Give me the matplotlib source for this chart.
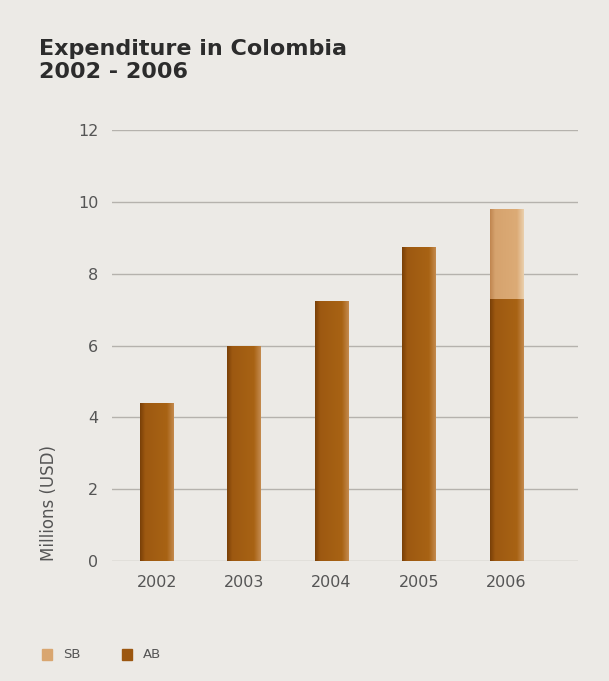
import matplotlib.pyplot as plt
import numpy as np
from matplotlib.patches import Rectangle
from matplotlib.colors import LinearSegmentedColormap

# donnees
years = ['2002', '2003', '2004', '2005', '2006']
ab = [4.4, 6.0, 7.25, 8.75, 7.3]
sb = [0, 0, 0, 0, 2.5]

col_ab = '#9c5710'
col_sb = '#d9a670'
bg = '#eceae6'

# degrades horizontaux pour l'effet 3D des barres
cm_ab = LinearSegmentedColormap.from_list(
    'ab', [(0, '#7a4008'), (0.15, '#9d5911'), (0.8, '#a86314'), (1, '#c48a4e')])
cm_sb = LinearSegmentedColormap.from_list(
    'sb', [(0, '#c08650'), (0.15, '#d6a36e'), (0.8, '#dcab76'), (1, '#ead0ae')])

fig = plt.figure(figsize=(6.09, 6.81), dpi=100)
fig.patch.set_facecolor(bg)
ax = fig.add_axes([0.184, 0.176, 0.765, 0.633])
ax.set_facecolor(bg)

x = np.arange(len(years))
w = 0.38
bars_ab = ax.bar(x, ab, width=w, color=col_ab, linewidth=0, zorder=3)
bars_sb = ax.bar(x, sb, bottom=ab, width=w, color=col_sb, linewidth=0, zorder=3)

grad = np.linspace(0, 1, 64).reshape(1, -1)
for bars, cm in [(bars_ab, cm_ab), (bars_sb, cm_sb)]:
    for b in bars:
        if b.get_height() <= 0:
            continue
        x0, y0 = b.get_x(), b.get_y()
        im = ax.imshow(grad, cmap=cm, aspect='auto', zorder=4,
                       extent=[x0, x0 + b.get_width(), y0, y0 + b.get_height()])
        im.set_clip_path(b)

ax.set_ylim(0, 12)
ax.set_xlim(-0.51, 4.82)
ax.set_yticks([0, 2, 4, 6, 8, 10, 12])
ax.set_xticks(x)
ax.set_xticklabels(years)
ax.grid(axis='y', color='#b5b2ad', linewidth=1, zorder=0)
for s in ax.spines.values():
    s.set_visible(False)
ax.tick_params(length=0, labelsize=11.5, colors='#555555', pad=10)
ax.tick_params(axis='y', pad=10)
ax.set_ylabel('Millions (USD)', fontsize=12, color='#555555')
ax.yaxis.set_label_coords(-0.115, 0.135)

fig.text(0.064, 0.943, 'Expenditure in Colombia\n2002 - 2006', fontsize=16,
         fontweight='bold', color='#2c2c2c', va='top', linespacing=1.2)

# legende
fig.patches.append(Rectangle((0.069, 0.031), 0.017, 0.016, transform=fig.transFigure,
                             color=col_sb, figure=fig))
fig.text(0.104, 0.039, 'SB', fontsize=9.5, color='#555555', va='center')
fig.patches.append(Rectangle((0.2, 0.031), 0.017, 0.016, transform=fig.transFigure,
                             color=col_ab, figure=fig))
fig.text(0.235, 0.039, 'AB', fontsize=9.5, color='#555555', va='center')

plt.savefig('out.png', dpi=100, facecolor=bg)
